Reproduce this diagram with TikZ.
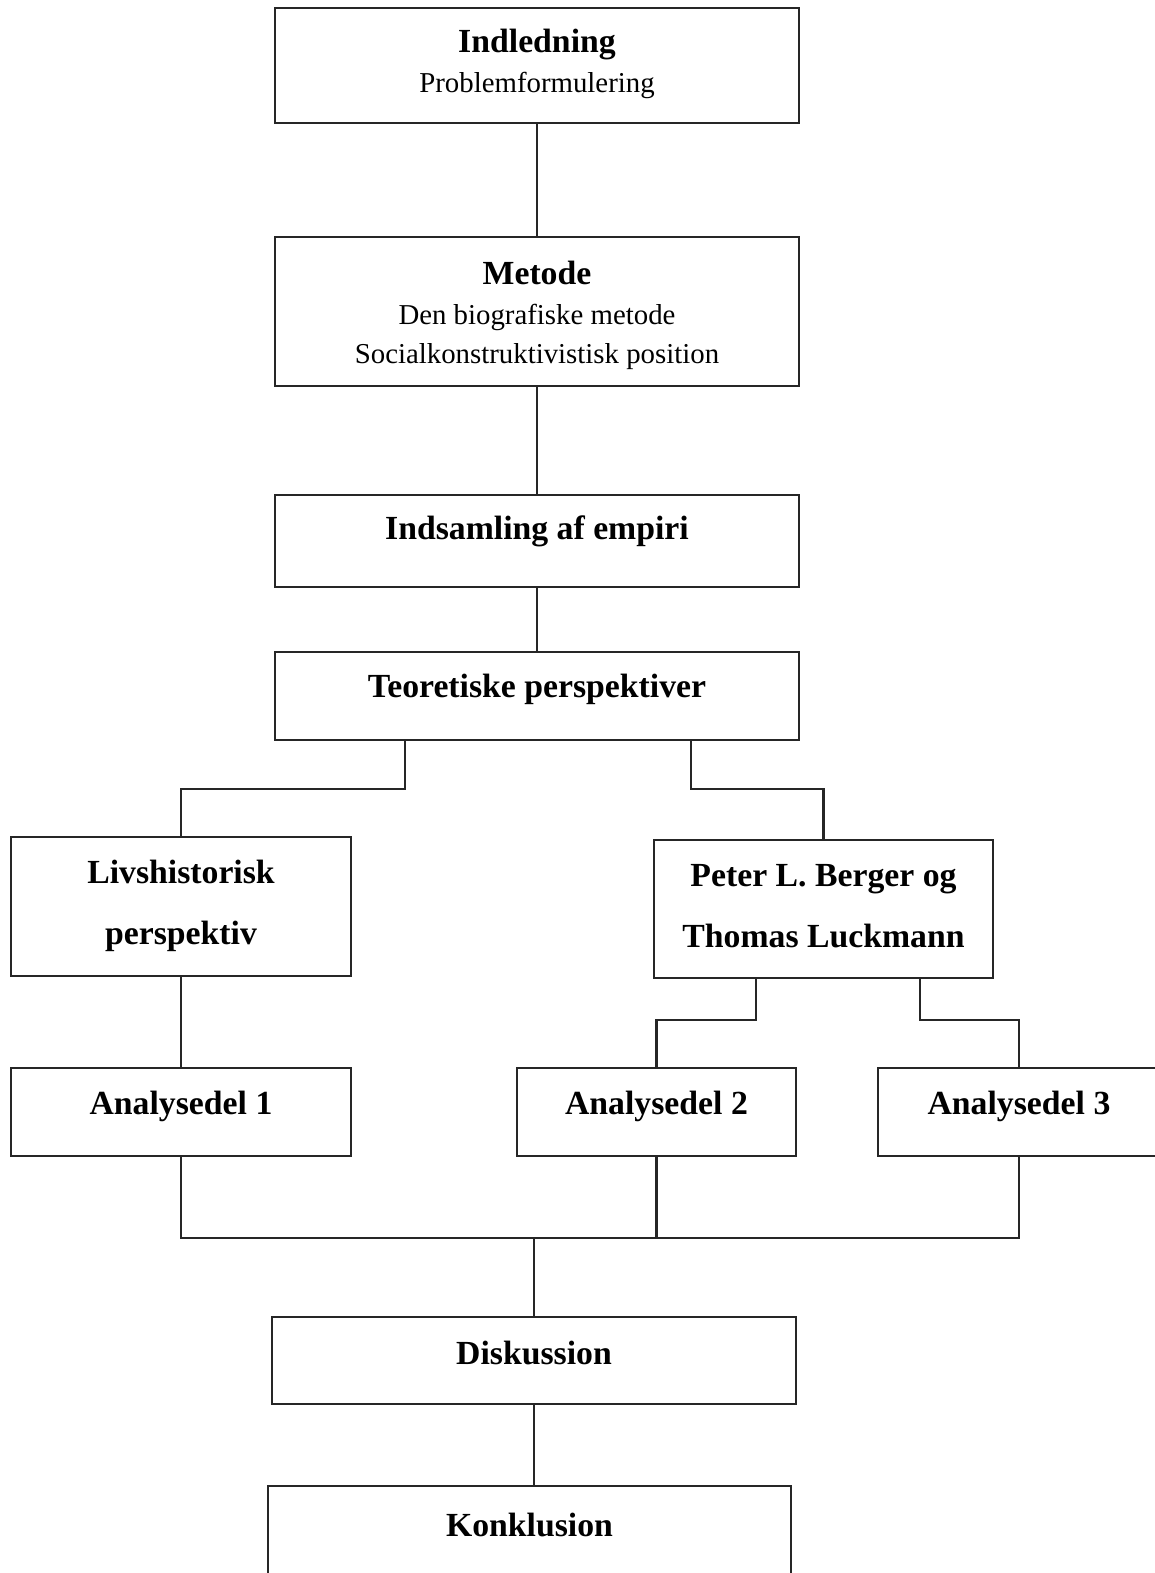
\documentclass[tikz,border=0pt]{standalone}
\usepackage{fontspec}
\setmainfont{Liberation Serif}
\usetikzlibrary{positioning,shadows}

\begin{document}
\begin{tikzpicture}[
  box/.style={draw=black!85, line width=0.7pt, fill=white, rectangle, inner sep=0pt,
    drop shadow={shadow xshift=0.35pt, shadow yshift=-0.35pt, fill=black!40, opacity=0.6}},
  title/.style={font=\bfseries\fontsize{9.6}{17.4}\selectfont, align=center, inner sep=0pt},
  sub/.style={font=\fontsize{8.2}{11.1}\selectfont, align=center, inner sep=0pt},
  link/.style={draw=black!85, line width=0.7pt}
]
\useasboundingbox (0,0) rectangle (11.55,-15.73);
\fill [white] (0,0) rectangle (11.55,-15.73);

\node [box, minimum width=5.24cm, minimum height=1.15cm] (indl) at (5.37,-0.655) {};
\node [title] (indlT) at ([yshift=-0.38cm]indl.north) {Indledning};
\node [sub] (indlS) at ([yshift=-0.79cm]indl.north) {Problemformulering};

\node [box, minimum width=5.24cm, minimum height=1.49cm] (metode) at (5.37,-3.115) {};
\node [title] (metodeT) at ([yshift=-0.37cm]metode.north) {Metode};
\node [sub] (metodeS) at ([yshift=-1.015cm]metode.north) {Den biografiske metode\\Socialkonstruktivistisk position};

\node [box, minimum width=5.24cm, minimum height=0.92cm] (empiri) at (5.37,-5.41) {};
\node [title] (empiriT) at ([yshift=-0.38cm]empiri.north) {Indsamling af empiri};

\node [box, minimum width=5.24cm, minimum height=0.88cm] (teori) at (5.37,-6.96) {};
\node [title] (teoriT) at ([yshift=-0.39cm]teori.north) {Teoretiske perspektiver};

\node [box, minimum width=3.40cm, minimum height=1.39cm] (livs) at (1.81,-9.065) {};
\node [title] (livsT) at ([yshift=-0.70cm]livs.north) {Livshistorisk\\perspektiv};

\node [box, minimum width=3.39cm, minimum height=1.38cm] (berger) at (8.235,-9.09) {};
\node [title] (bergerT) at ([yshift=-0.67cm]berger.north) {Peter L. Berger og\\Thomas Luckmann};

\node [box, minimum width=3.40cm, minimum height=0.88cm] (ana1) at (1.81,-11.12) {};
\node [title] (ana1T) at ([yshift=-0.40cm]ana1.north) {Analysedel 1};

\node [box, minimum width=2.79cm, minimum height=0.88cm] (ana2) at (6.565,-11.12) {};
\node [title] (ana2T) at ([yshift=-0.40cm]ana2.north) {Analysedel 2};

\node [box, minimum width=2.82cm, minimum height=0.88cm] (ana3) at (10.19,-11.12) {};
\node [title] (ana3T) at ([yshift=-0.40cm]ana3.north) {Analysedel 3};

\node [box, minimum width=5.24cm, minimum height=0.87cm] (disk) at (5.34,-13.605) {};
\node [title] (diskT) at ([yshift=-0.37cm]disk.north) {Diskussion};

\node [box, minimum width=5.23cm, minimum height=1.14cm] (konk) at (5.295,-15.43) {};
\node [title] (konkT) at ([yshift=-0.40cm]konk.north) {Konklusion};

\coordinate (bus) at ([yshift=-0.81cm]ana1.south);

\draw [link] (indl.south) -- (indl.south |- metode.north);
\draw [link] (metode.south) -- (metode.south |- empiri.north);
\draw [link] (empiri.south) -- (empiri.south |- teori.north);
\draw [link] ([xshift=-1.32cm]teori.south) |- ([yshift=0.47cm]livs.north) -- (livs.north);
\draw [link] ([xshift=1.54cm]teori.south) |- ([yshift=0.50cm]berger.north) -- (berger.north);
\draw [link] (livs.south) -- (ana1.north);
\draw [link] ([xshift=-0.675cm]berger.south) |- ([yshift=0.47cm]ana2.north) -- (ana2.north);
\draw [link] ([xshift=0.965cm]berger.south) |- ([yshift=0.47cm]ana3.north) -- (ana3.north);
\draw [link] (ana1.south) -- (bus) -| (ana3.south);
\draw [link] (ana2.south) -- (ana2.south |- bus);
\draw [link] (disk.north |- bus) -- (disk.north);
\draw [link] (disk.south) -- (disk.south |- konk.north);
\end{tikzpicture}
\end{document}
